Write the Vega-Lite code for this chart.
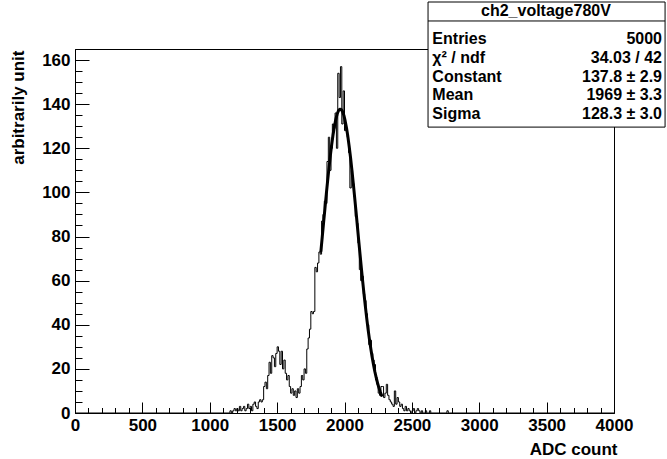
{
  "$schema": "https://vega.github.io/schema/vega-lite/v6.json",
  "width": 539,
  "height": 364,
  "autosize": {"type": "none"},
  "padding": {"left": 75, "top": 49, "right": 53, "bottom": 46},
  "background": "white",
  "config": {
    "font": "Liberation Sans",
    "view": {"stroke": "black", "strokeWidth": 1},
    "axis": {
      "domainColor": "black",
      "domainWidth": 1,
      "tickColor": "black",
      "tickWidth": 1,
      "grid": false,
      "labelFont": "Liberation Sans",
      "labelFontWeight": "bold",
      "labelFontSize": 17,
      "labelColor": "black",
      "labelFlush": false,
      "labelOverlap": false,
      "titleFont": "Liberation Sans",
      "titleFontWeight": "bold",
      "titleFontSize": 17,
      "titleColor": "black"
    }
  },
  "datasets": {
    "hist": [
      {"adc": 0, "n": 0},
      {"adc": 1150, "n": 1}, {"adc": 1160, "n": 0}, {"adc": 1170, "n": 1}, {"adc": 1180, "n": 2}, {"adc": 1190, "n": 1},
      {"adc": 1200, "n": 2}, {"adc": 1210, "n": 1}, {"adc": 1220, "n": 3}, {"adc": 1230, "n": 1}, {"adc": 1240, "n": 2},
      {"adc": 1250, "n": 3}, {"adc": 1260, "n": 1}, {"adc": 1270, "n": 2}, {"adc": 1280, "n": 4}, {"adc": 1290, "n": 2},
      {"adc": 1300, "n": 3}, {"adc": 1310, "n": 1}, {"adc": 1320, "n": 4}, {"adc": 1330, "n": 5}, {"adc": 1340, "n": 3},
      {"adc": 1350, "n": 2}, {"adc": 1360, "n": 5}, {"adc": 1370, "n": 6}, {"adc": 1380, "n": 5}, {"adc": 1390, "n": 6},
      {"adc": 1400, "n": 12}, {"adc": 1410, "n": 14}, {"adc": 1420, "n": 11}, {"adc": 1430, "n": 17}, {"adc": 1440, "n": 23},
      {"adc": 1450, "n": 18}, {"adc": 1460, "n": 26}, {"adc": 1470, "n": 25}, {"adc": 1480, "n": 21}, {"adc": 1490, "n": 27},
      {"adc": 1500, "n": 30}, {"adc": 1510, "n": 28}, {"adc": 1520, "n": 22}, {"adc": 1530, "n": 28}, {"adc": 1540, "n": 20},
      {"adc": 1550, "n": 24}, {"adc": 1560, "n": 18}, {"adc": 1570, "n": 15}, {"adc": 1580, "n": 17}, {"adc": 1590, "n": 12},
      {"adc": 1600, "n": 9}, {"adc": 1610, "n": 11}, {"adc": 1620, "n": 8}, {"adc": 1630, "n": 10}, {"adc": 1640, "n": 7},
      {"adc": 1650, "n": 11}, {"adc": 1660, "n": 9}, {"adc": 1670, "n": 12}, {"adc": 1680, "n": 17}, {"adc": 1690, "n": 15},
      {"adc": 1700, "n": 20}, {"adc": 1710, "n": 18}, {"adc": 1720, "n": 29}, {"adc": 1730, "n": 34}, {"adc": 1740, "n": 38},
      {"adc": 1750, "n": 46}, {"adc": 1760, "n": 45}, {"adc": 1770, "n": 46}, {"adc": 1780, "n": 66}, {"adc": 1790, "n": 64},
      {"adc": 1800, "n": 68}, {"adc": 1810, "n": 73}, {"adc": 1820, "n": 72}, {"adc": 1830, "n": 87}, {"adc": 1840, "n": 90},
      {"adc": 1850, "n": 96}, {"adc": 1860, "n": 95}, {"adc": 1870, "n": 114}, {"adc": 1880, "n": 125}, {"adc": 1890, "n": 110},
      {"adc": 1900, "n": 120}, {"adc": 1910, "n": 131}, {"adc": 1920, "n": 129}, {"adc": 1930, "n": 136}, {"adc": 1940, "n": 120},
      {"adc": 1950, "n": 154}, {"adc": 1960, "n": 143}, {"adc": 1970, "n": 157}, {"adc": 1980, "n": 131}, {"adc": 1990, "n": 146},
      {"adc": 2000, "n": 128}, {"adc": 2010, "n": 129}, {"adc": 2020, "n": 125}, {"adc": 2030, "n": 118}, {"adc": 2040, "n": 102},
      {"adc": 2050, "n": 110}, {"adc": 2060, "n": 104}, {"adc": 2070, "n": 98}, {"adc": 2080, "n": 89}, {"adc": 2090, "n": 86},
      {"adc": 2100, "n": 77}, {"adc": 2110, "n": 65}, {"adc": 2120, "n": 60}, {"adc": 2130, "n": 62}, {"adc": 2140, "n": 54},
      {"adc": 2150, "n": 51}, {"adc": 2160, "n": 45}, {"adc": 2170, "n": 40}, {"adc": 2180, "n": 31}, {"adc": 2190, "n": 33},
      {"adc": 2200, "n": 27}, {"adc": 2210, "n": 24}, {"adc": 2220, "n": 22}, {"adc": 2230, "n": 15}, {"adc": 2240, "n": 13},
      {"adc": 2250, "n": 9}, {"adc": 2260, "n": 8}, {"adc": 2270, "n": 12}, {"adc": 2280, "n": 12}, {"adc": 2290, "n": 7},
      {"adc": 2300, "n": 9}, {"adc": 2310, "n": 13}, {"adc": 2320, "n": 8}, {"adc": 2330, "n": 6}, {"adc": 2340, "n": 5},
      {"adc": 2350, "n": 4}, {"adc": 2360, "n": 3}, {"adc": 2370, "n": 10}, {"adc": 2380, "n": 4}, {"adc": 2390, "n": 7},
      {"adc": 2400, "n": 5}, {"adc": 2410, "n": 3}, {"adc": 2420, "n": 4}, {"adc": 2430, "n": 2}, {"adc": 2440, "n": 1},
      {"adc": 2450, "n": 3}, {"adc": 2460, "n": 1}, {"adc": 2470, "n": 2}, {"adc": 2480, "n": 1}, {"adc": 2490, "n": 0},
      {"adc": 2500, "n": 1}, {"adc": 2510, "n": 2}, {"adc": 2520, "n": 0}, {"adc": 2530, "n": 1}, {"adc": 2540, "n": 2},
      {"adc": 2550, "n": 1}, {"adc": 2560, "n": 0}, {"adc": 2570, "n": 1}, {"adc": 2580, "n": 0}, {"adc": 2600, "n": 1},
      {"adc": 2610, "n": 0}, {"adc": 2630, "n": 1}, {"adc": 2640, "n": 0}, {"adc": 2760, "n": 1}, {"adc": 2770, "n": 0},
      {"adc": 4000, "n": 0}
    ],
    "fit": [
      {"adc": 1825, "f": 73.4}, {"adc": 1835, "f": 79.9}, {"adc": 1845, "f": 86.4}, {"adc": 1855, "f": 92.8},
      {"adc": 1865, "f": 99.2}, {"adc": 1875, "f": 105.4}, {"adc": 1885, "f": 111.2}, {"adc": 1895, "f": 116.7},
      {"adc": 1905, "f": 121.7}, {"adc": 1915, "f": 126.1}, {"adc": 1925, "f": 129.9}, {"adc": 1935, "f": 133.0},
      {"adc": 1945, "f": 135.4}, {"adc": 1955, "f": 137.0}, {"adc": 1965, "f": 137.7}, {"adc": 1975, "f": 137.6},
      {"adc": 1985, "f": 136.7}, {"adc": 1995, "f": 135.0}, {"adc": 2005, "f": 132.4}, {"adc": 2015, "f": 129.2},
      {"adc": 2025, "f": 125.3}, {"adc": 2035, "f": 120.7}, {"adc": 2045, "f": 115.7}, {"adc": 2055, "f": 110.1},
      {"adc": 2065, "f": 104.2}, {"adc": 2075, "f": 98.0}, {"adc": 2085, "f": 91.6}, {"adc": 2095, "f": 85.1},
      {"adc": 2105, "f": 78.5}, {"adc": 2115, "f": 72.1}, {"adc": 2125, "f": 65.8}, {"adc": 2135, "f": 59.7},
      {"adc": 2145, "f": 53.8}, {"adc": 2155, "f": 48.2}, {"adc": 2165, "f": 42.9}, {"adc": 2175, "f": 37.9},
      {"adc": 2185, "f": 33.4}, {"adc": 2195, "f": 29.2}, {"adc": 2205, "f": 25.4}, {"adc": 2215, "f": 22.0},
      {"adc": 2225, "f": 18.8}, {"adc": 2235, "f": 16.1}, {"adc": 2245, "f": 13.7}, {"adc": 2255, "f": 11.5},
      {"adc": 2265, "f": 9.6}, {"adc": 2275, "f": 8.0}
    ]
  },
  "resolve": {"axis": {"x": "independent", "y": "independent"}},
  "layer": [
    {
      "data": {"name": "hist"},
      "mark": {"type": "line", "interpolate": "step-after", "color": "black", "strokeWidth": 1},
      "encoding": {
        "x": {
          "field": "adc", "type": "quantitative",
          "scale": {"domain": [0, 4000], "nice": false, "zero": false},
          "axis": {
            "values": [0, 500, 1000, 1500, 2000, 2500, 3000, 3500, 4000],
            "format": "d",
            "tickSize": -11, "labelPadding": 15,
            "title": "ADC count", "titleAnchor": "end", "titleAlign": "right",
            "titleX": 542, "titleY": 36, "titleBaseline": "middle"
          }
        },
        "y": {
          "field": "n", "type": "quantitative",
          "scale": {"domain": [0, 165], "nice": false, "zero": true},
          "axis": {
            "values": [0, 20, 40, 60, 80, 100, 120, 140, 160],
            "format": "d",
            "tickSize": -14, "labelPadding": 19,
            "title": "arbitrarily unit", "titleAngle": -90, "titleAlign": "right",
            "titleBaseline": "middle", "titleX": -57, "titleY": 1
          }
        }
      }
    },
    {
      "data": {"name": "fit"},
      "mark": {"type": "line", "color": "black", "strokeWidth": 3, "strokeJoin": "round", "strokeCap": "round"},
      "encoding": {
        "x": {
          "field": "adc", "type": "quantitative",
          "axis": {
            "orient": "bottom",
            "values": [100, 200, 300, 400, 600, 700, 800, 900, 1100, 1200, 1300, 1400, 1600, 1700, 1800, 1900, 2100, 2200, 2300, 2400, 2600, 2700, 2800, 2900, 3100, 3200, 3300, 3400, 3600, 3700, 3800, 3900],
            "tickSize": -5.5, "labels": false, "domain": false, "title": null
          }
        },
        "y": {
          "field": "f", "type": "quantitative",
          "axis": {
            "orient": "left",
            "values": [5, 10, 15, 25, 30, 35, 45, 50, 55, 65, 70, 75, 85, 90, 95, 105, 110, 115, 125, 130, 135, 145, 150, 155, 165],
            "tickSize": -7, "labels": false, "domain": false, "title": null
          }
        }
      }
    },
    {
      "data": {"values": [{}]},
      "mark": {"type": "rect", "fill": "white", "stroke": "black", "strokeWidth": 1},
      "encoding": {
        "x": {"datum": 2620, "type": "quantitative", "axis": null},
        "x2": {"datum": 4379},
        "y": {"datum": 129.6, "type": "quantitative", "axis": null},
        "y2": {"datum": 186.3}
      }
    },
    {
      "data": {"values": [{}]},
      "mark": {"type": "rule", "color": "black", "strokeWidth": 1},
      "encoding": {
        "x": {"datum": 2620, "type": "quantitative", "axis": null},
        "x2": {"datum": 4379},
        "y": {"datum": 177.7, "type": "quantitative", "axis": null}
      }
    },
    {
      "data": {"values": [{}]},
      "mark": {"type": "text", "text": "ch2_voltage780V", "font": "Liberation Sans", "fontWeight": "bold", "fontSize": 16, "align": "center", "baseline": "middle", "color": "black"},
      "encoding": {
        "x": {"datum": 3495, "type": "quantitative", "axis": null},
        "y": {"datum": 182.2, "type": "quantitative", "axis": null}
      }
    },
    {
      "data": {"values": [{}]},
      "mark": {"type": "text", "text": ["Entries", "χ² / ndf", "Constant", "Mean", "Sigma"], "lineHeight": 18.75, "font": "Liberation Sans", "fontWeight": "bold", "fontSize": 16, "align": "left", "baseline": "middle", "color": "black"},
      "encoding": {
        "x": {"datum": 2652, "type": "quantitative", "axis": null},
        "y": {"datum": 169.5, "type": "quantitative", "axis": null}
      }
    },
    {
      "data": {"values": [{}]},
      "mark": {"type": "text", "text": ["5000", "34.03 / 42", "137.8 ± 2.9", "1969 ± 3.3", "128.3 ± 3.0"], "lineHeight": 18.75, "font": "Liberation Sans", "fontWeight": "bold", "fontSize": 16, "align": "right", "baseline": "middle", "color": "black"},
      "encoding": {
        "x": {"datum": 4356, "type": "quantitative", "axis": null},
        "y": {"datum": 169.5, "type": "quantitative", "axis": null}
      }
    }
  ]
}
